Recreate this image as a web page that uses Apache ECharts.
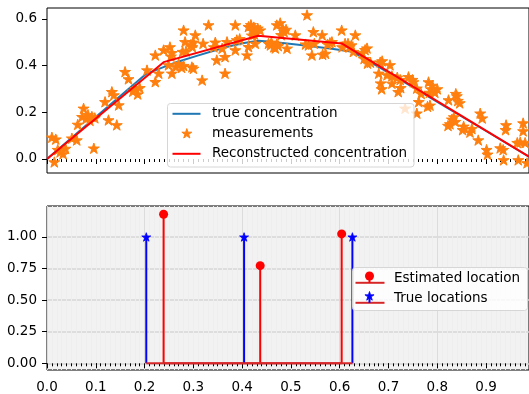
<!DOCTYPE html>
<html>
<head>
<meta charset="utf-8">
<script src="https://cdn.jsdelivr.net/npm/echarts@6/dist/echarts.min.js"></script>
<style>
html,body{margin:0;padding:0;background:#fff}
#chart{width:529px;height:394px}
</style>
</head>
<body>
<div id="chart"></div>
<script>
// top panel: true curve, noisy measurements, reconstruction
var trueX=[0,0.1,0.2035,0.24,0.27,0.307,0.34,0.376,0.404,0.433,0.46,0.52,0.58,0.626,0.7,0.8,0.9,0.988];
var trueY=[0,0.18,0.365,0.395,0.418,0.442,0.463,0.484,0.497,0.507,0.502,0.488,0.473,0.46,0.37,0.245,0.12,0.01];
var recX=[0,0.239,0.433,0.604,0.988];
var recY=[0,0.415,0.528,0.495,0.01];
var measX=[0.010,0.018,0.015,0.022,0.027,0.033,0.038,0.051,0.061,0.063,0.072,0.075,0.080,0.084,0.088,0.092,0.098,0.096,0.119,0.126,0.133,0.137,0.147,0.143,0.160,0.167,
0.176,0.181,0.186,0.190,0.205,0.222,0.222,0.229,0.239,0.249,0.252,0.256,0.254,0.256,0.264,0.270,0.276,0.280,0.280,0.283,0.278,0.285,0.295,0.300,0.298,0.297,0.300,0.304,0.318,0.320,0.331,0.342,0.345,0.348,0.359,0.365,0.365,0.369,0.386,0.386,0.389,0.395,0.410,0.413,0.413,0.418,0.421,0.424,0.428,0.420,0.425,0.432,0.437,0.427,0.454,0.458,0.465,0.471,0.468,0.471,
0.460,0.474,0.478,0.483,0.486,0.480,0.490,0.492,0.509,0.533,0.530,0.536,0.543,0.546,0.548,0.564,0.565,0.571,0.575,0.580,0.584,0.604,0.605,0.611,0.617,0.620,0.624,0.632,0.628,0.646,0.652,0.656,0.650,0.657,0.663,0.683,0.687,0.680,0.703,0.697,0.707,0.718,0.724,0.684,0.686,0.707,0.720,0.725,0.741,0.749,0.751,0.758,0.734,
0.762,0.767,0.782,0.787,0.790,0.795,0.800,0.784,0.780,0.785,0.758,0.823,0.840,0.842,0.846,0.838,0.830,0.834,0.837,0.826,0.822,0.852,0.854,0.867,0.871,0.888,0.892,0.884,0.901,0.903,0.929,0.935,0.936,0.941,0.940,0.966,0.964,0.970,0.980,0.976,0.976,0.984];
var measY=[0.093,0.085,-0.013,0.040,0.030,0.022,0.045,0.089,0.081,0.148,0.181,0.217,0.172,0.190,0.165,0.182,0.176,0.046,0.245,0.167,0.288,0.274,0.231,0.146,0.374,0.343,
0.290,0.300,0.278,0.305,0.381,0.331,0.445,0.367,0.467,0.403,0.480,0.455,0.440,0.367,0.395,0.408,0.392,0.400,0.552,0.502,0.460,0.462,0.490,0.500,0.480,0.394,0.388,0.531,0.338,0.495,0.574,0.480,0.500,0.424,0.474,0.438,0.367,0.502,0.574,0.467,0.510,0.515,0.445,0.481,0.567,0.575,0.550,0.565,0.550,0.530,0.535,0.560,0.552,0.495,0.495,0.488,0.480,0.492,0.475,0.574,
0.500,0.485,0.583,0.560,0.545,0.532,0.555,0.474,0.531,0.617,0.492,0.488,0.445,0.545,0.495,0.531,0.448,0.452,0.492,0.498,0.502,0.552,0.480,0.495,0.495,0.480,0.488,0.531,0.460,0.455,0.468,0.475,0.430,0.410,0.414,0.415,0.420,0.367,0.403,0.360,0.356,0.350,0.340,0.325,0.300,0.324,0.288,0.305,0.352,0.340,0.330,0.303,0.217,
0.245,0.280,0.330,0.300,0.315,0.285,0.300,0.285,0.225,0.230,0.196,0.253,0.270,0.250,0.240,0.280,0.170,0.180,0.160,0.150,0.143,0.125,0.140,0.115,0.130,0.196,0.175,0.081,0.040,0.020,0.047,0.040,-0.004,0.146,0.125,-0.004,0.070,0.072,0.070,0.154,0.120,-0.017];

// bottom panel: spike locations and amplitudes
var trueLoc=[0.2035,0.404,0.626];
var trueAmp=[1,1,1];
var estLoc=[0.239,0.437,0.604];
var estAmp=[1.18,0.773,1.024];

var xTicks=[0,0.1,0.2,0.3,0.4,0.5,0.6,0.7,0.8,0.9];
var topYTicks=[0,0.2,0.4,0.6];
var botYTicks=[0,0.25,0.5,0.75,1];

var FONT="DejaVu Sans";
var FS=13.5;
var STAR='path://M50,0L61.23,34.55L97.55,34.55L68.17,55.9L79.39,90.45L50,69.1L20.61,90.45L31.83,55.9L2.45,34.55L38.77,34.55Z';

var zip=function (a,b) {return a.map(function (v,i) {return [v,b[i]];});};
var baseline=function (loc) {return [[Math.min.apply(null,loc),0],[Math.max.apply(null,loc),0]];};
var stem=function (color,width) {
    return function (params,api) {
        var p0=api.coord([api.value(0),0]);
        var p1=api.coord([api.value(0),api.value(1)]);
        return {type:'line',shape:{x1:p0[0],y1:p0[1],x2:p1[0],y2:p1[1]},style:{stroke:color,lineWidth:width}};
    };
};
// star outline for legend handles
var starPts=function (cx,cy,r) {
    var pts=[];
    for(var k=0;k<10;k++){
        var a=k*Math.PI/5, rr=(k%2===0)?r:r*0.382;
        pts.push([cx+rr*Math.sin(a),cy-rr*Math.cos(a)]);
    }
    return pts;
};

var tickStyle={show:true,inside:false,length:5,lineStyle:{color:'#000',width:1}};
var labelStyle={fontFamily:FONT,fontSize:FS,color:'#000'};
var txt=function (x,y,s) {
    return {type:'text',x:x,y:y,z:100,style:{text:s,font:FS+'px "DejaVu Sans"',fill:'#000',verticalAlign:'middle'}};
};
var seg=function (x1,y1,x2,y2,c) {
    return {type:'line',z:100,shape:{x1:x1,y1:y1,x2:x2,y2:y2},style:{stroke:c,lineWidth:2}};
};
var box=function (w,h) {
    return {type:'rect',z:100,shape:{x:0,y:0,width:w,height:h,r:3},style:{fill:'rgba(255,255,255,0.8)',stroke:'#d6d6d6',lineWidth:1}};
};

var chart=echarts.init(document.getElementById('chart'),null,{renderer:'canvas'});
var option={
    animation:false,
    grid:[
        {left:47,right:0,top:8,height:165,show:true,borderColor:'#000',borderWidth:1,backgroundColor:'#fff'},
        {left:47,right:0,top:206,height:164,show:true,borderColor:'#000',borderWidth:1,backgroundColor:'#f2f2f2'}
    ],
    xAxis:[
        {gridIndex:0,type:'value',min:0,max:0.988,
            axisLine:{show:false},
            axisTick:Object.assign({customValues:xTicks},tickStyle),
            minorTick:{show:true,splitNumber:20,length:3,lineStyle:{color:'#000',width:1}},
            axisLabel:{show:false},
            splitLine:{show:false}},
        {gridIndex:1,type:'value',min:0,max:0.988,
            axisLine:{show:false},
            axisTick:Object.assign({customValues:xTicks},tickStyle),
            minorTick:{show:true,splitNumber:20,length:3,lineStyle:{color:'#000',width:1}},
            axisLabel:Object.assign({customValues:xTicks,margin:10,formatter:function (v) {return v.toFixed(1);}},labelStyle),
            splitLine:{show:true,lineStyle:{color:'#dcdcdc',width:1}},
            minorSplitLine:{show:true,lineStyle:{color:'#eeeeee',width:1}}}
    ],
    yAxis:[
        {gridIndex:0,type:'value',min:-0.06,max:0.647,
            axisLine:{show:false},
            axisTick:Object.assign({customValues:topYTicks},tickStyle),
            axisLabel:Object.assign({customValues:topYTicks,margin:10,formatter:function (v) {return v.toFixed(1);}},labelStyle),
            splitLine:{show:false}},
        {gridIndex:1,type:'value',min:-0.053,max:1.245,
            axisLine:{show:false},
            axisTick:Object.assign({customValues:botYTicks},tickStyle),
            axisLabel:Object.assign({customValues:botYTicks,margin:10,formatter:function (v) {return v.toFixed(2);}},labelStyle),
            splitLine:{show:true,lineStyle:{color:'#d6d6d6',width:1.5}}}
    ],
    series:[
        {name:'true concentration',type:'line',xAxisIndex:0,yAxisIndex:0,
            data:zip(trueX,trueY),symbol:'none',
            itemStyle:{color:'#1f77b4'},lineStyle:{color:'#1f77b4',width:2},z:2},
        {name:'measurements',type:'scatter',xAxisIndex:0,yAxisIndex:0,
            data:zip(measX,measY),symbol:STAR,symbolSize:11,symbolKeepAspect:true,
            itemStyle:{color:'#ff7f0e',borderColor:'#ff7f0e',borderWidth:1,opacity:1},z:3},
        {name:'Reconstructed concentration',type:'line',xAxisIndex:0,yAxisIndex:0,
            data:zip(recX,recY),symbol:'none',
            itemStyle:{color:'#ff0000'},lineStyle:{color:'#ff0000',width:2},z:4},

        {type:'custom',xAxisIndex:1,yAxisIndex:1,data:zip(estLoc,estAmp),
            renderItem:stem('#ff0000',2),encode:{x:0,y:1},z:2},
        {type:'scatter',xAxisIndex:1,yAxisIndex:1,data:zip(estLoc,estAmp),
            symbol:'circle',symbolSize:9,itemStyle:{color:'#ff0000',opacity:1},z:3},
        {type:'line',xAxisIndex:1,yAxisIndex:1,data:baseline(estLoc),symbol:'none',
            lineStyle:{color:'#d62728',width:2},z:3},
        {type:'custom',xAxisIndex:1,yAxisIndex:1,data:zip(trueLoc,trueAmp),
            renderItem:stem('#0000ff',2),encode:{x:0,y:1},z:4},
        {type:'scatter',xAxisIndex:1,yAxisIndex:1,data:zip(trueLoc,trueAmp),
            symbol:STAR,symbolSize:9,symbolKeepAspect:true,
            itemStyle:{color:'#0000ff',borderColor:'#0000ff',borderWidth:0.8,opacity:1},z:5},
        {type:'line',xAxisIndex:1,yAxisIndex:1,data:baseline(trueLoc),symbol:'none',
            lineStyle:{color:'#d62728',width:2},z:5}
    ],
    // matplotlib-like legends drawn as graphics
    graphic:[
        {type:'group',left:167,top:103,z:100,children:[
            box(246.5,63.5),
            seg(5,10.3,33,10.3,'#1f77b4'),
            {type:'polygon',z:100,shape:{points:starPts(19.3,30.3,5.2)},style:{fill:'#ff7f0e',stroke:'#ff7f0e',lineWidth:1}},
            seg(5,50.3,33,50.3,'#ff0000'),
            txt(44.5,10.3,'true concentration'),
            txt(44.5,30.3,'measurements'),
            txt(44.5,50.3,'Reconstructed concentration')
        ]},
        {type:'group',left:352,top:267,z:100,children:[
            box(175,43),
            seg(3,15.3,32,15.3,'#d62728'),
            seg(17,15.3,17,9,'#ff0000'),
            {type:'circle',z:100,shape:{cx:17,cy:8.5,r:4.5},style:{fill:'#ff0000'}},
            txt(41.5,10.7,'Estimated location'),
            seg(3,35.3,32,35.3,'#d62728'),
            seg(17,35.3,17,29,'#0000ff'),
            {type:'polygon',z:100,shape:{points:starPts(17,28.8,4.8)},style:{fill:'#0000ff',stroke:'#0000ff',lineWidth:0.8}},
            txt(41.5,30.7,'True locations')
        ]}
    ]
};
chart.setOption(option);
</script>
</body>
</html>
